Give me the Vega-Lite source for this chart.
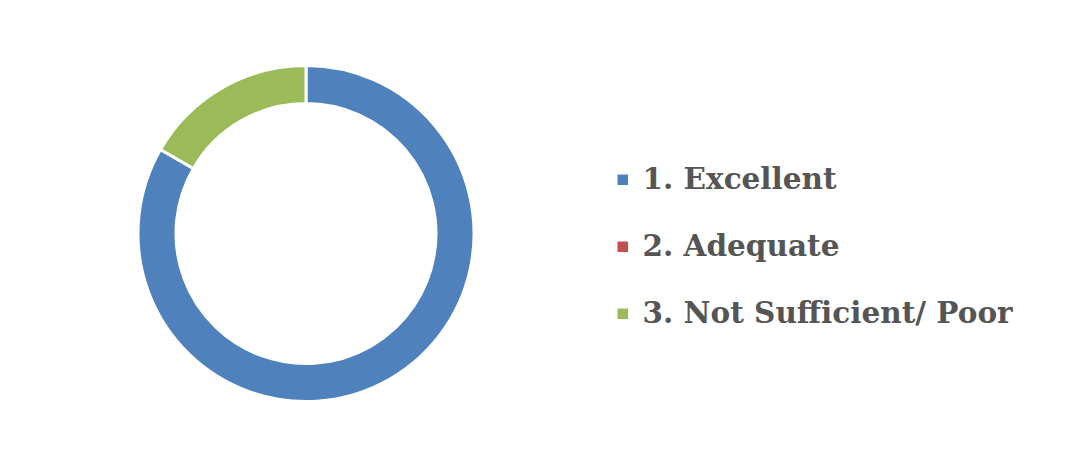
{
  "$schema": "https://vega.github.io/schema/vega-lite/v6.json",
  "width": 612,
  "height": 467,
  "padding": 0,
  "autosize": {"type": "pad"},
  "background": "white",
  "config": {"view": {"stroke": null}},
  "data": {
    "values": [
      {"category": "1. Excellent", "count": 5},
      {"category": "2. Adequate", "count": 0},
      {"category": "3. Not Sufficient/ Poor", "count": 1}
    ]
  },
  "mark": {"type": "arc", "radius": 168, "radius2": 130, "stroke": "white", "strokeWidth": 3},
  "encoding": {
    "theta": {"field": "count", "type": "quantitative", "stack": true},
    "color": {
      "field": "category",
      "type": "nominal",
      "scale": {
        "domain": ["1. Excellent", "2. Adequate", "3. Not Sufficient/ Poor"],
        "range": ["#4F81BD", "#C0504D", "#9BBB59"]
      },
      "legend": {
        "title": null,
        "orient": "none",
        "legendX": 608,
        "legendY": 165,
        "symbolType": "square",
        "symbolSize": 110,
        "symbolStrokeWidth": 0,
        "labelFont": "DejaVu Serif",
        "labelFontWeight": "bold",
        "labelFontSize": 29.5,
        "labelColor": "#555555",
        "labelOffset": 5,
        "labelLimit": 600,
        "rowPadding": 36,
        "padding": 0
      }
    },
    "order": {"field": "category", "sort": "ascending"}
  }
}
